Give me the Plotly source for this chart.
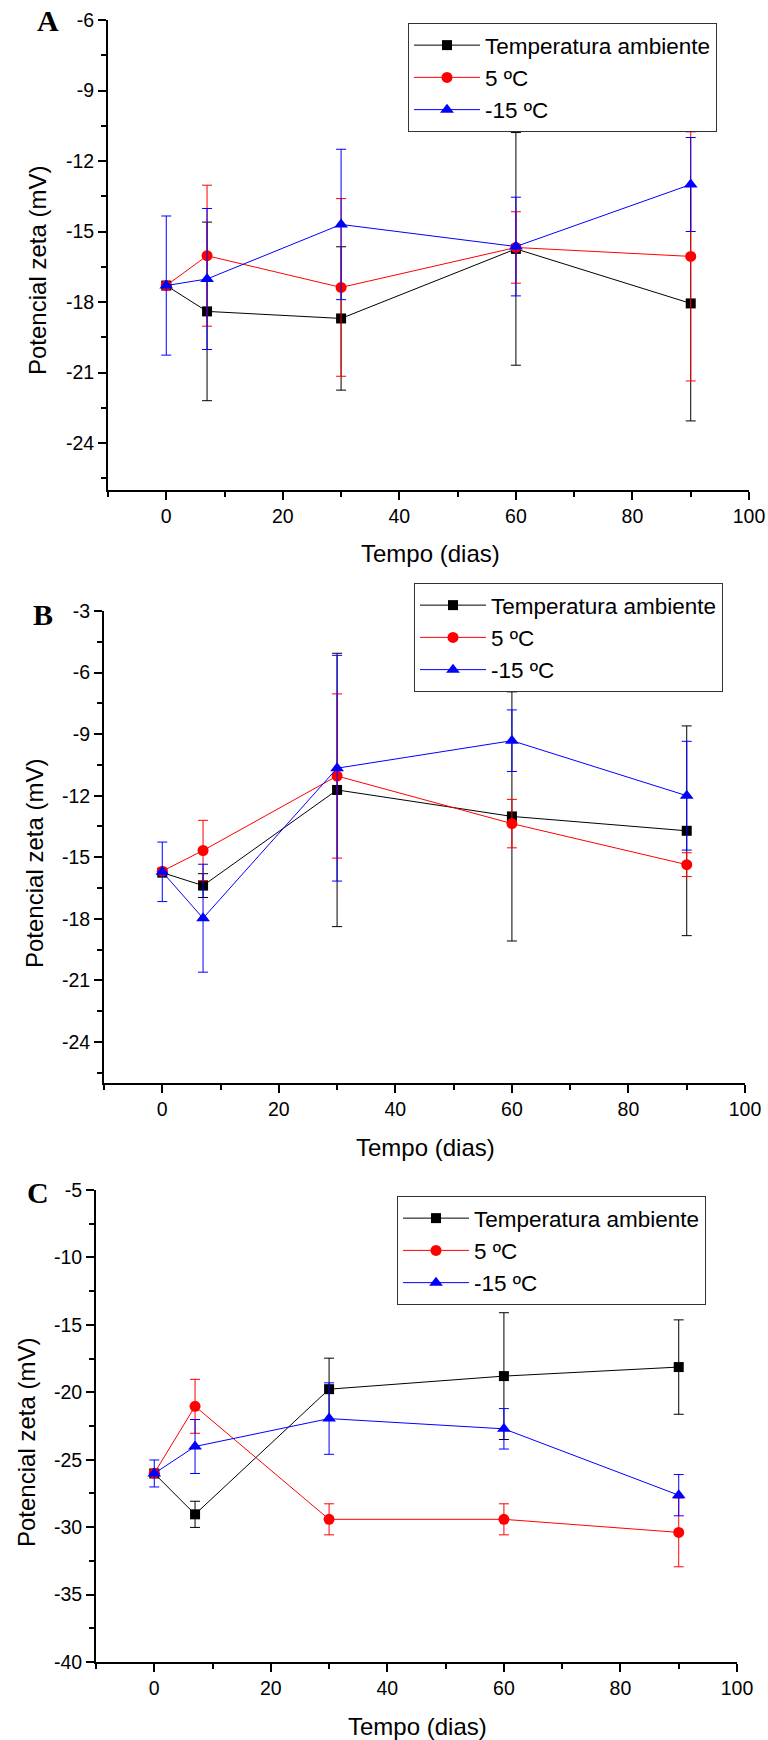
import plotly.graph_objects as go

W, H = 768, 1740

days = [0, 7, 30, 60, 90]
names = ["Temperatura ambiente", "5 ºC", "-15 ºC"]

# Panel A: zeta potential (mV) and standard deviation
a_amb = [-17.3, -18.4, -18.7, -15.74, -18.06]
a_amb_err = [0, 3.8, 3.05, 4.95, 5.0]
a_5c = [-17.3, -16.03, -17.38, -15.68, -16.06]
a_5c_err = [0, 3.0, 3.78, 1.52, 5.3]
a_m15 = [-17.3, -17.02, -14.7, -15.64, -13.0]
a_m15_err = [2.96, 3.0, 3.2, 2.1, 2.0]

# Panel B
b_amb = [-15.75, -16.38, -11.72, -13.01, -13.71]
b_amb_err = [0, 0.58, 6.66, 6.07, 5.11]
b_5c = [-15.68, -14.67, -11.04, -13.36, -15.36]
b_5c_err = [0, 1.47, 4.0, 1.18, 0.58]
b_m15 = [-15.71, -17.97, -10.66, -9.32, -12.0]
b_m15_err = [1.45, 2.63, 5.5, 1.5, 2.65]

# Panel C
c_amb = [-26.02, -29.05, -19.77, -18.8, -18.13]
c_amb_err = [0, 0.97, 2.3, 4.7, 3.5]
c_5c = [-26.0, -21.04, -29.42, -29.42, -30.39]
c_5c_err = [0, 2.0, 1.15, 1.15, 2.55]
c_m15 = [-26.02, -24.02, -21.95, -22.71, -27.63]
c_m15_err = [1.0, 2.0, 2.65, 1.5, 1.53]

# y tick values per panel (labels written with a plain hyphen)
a_yticks = [-24, -21, -18, -15, -12, -9, -6]
b_yticks = [-24, -21, -18, -15, -12, -9, -6, -3]
c_yticks = [-40, -35, -30, -25, -20, -15, -10, -5]
x_ticks = [0, 20, 40, 60, 80, 100]

colors = ["#000000", "#FF0000", "#0000FF"]
symbols = ["square", "circle", "triangle-up"]
msizes = [10, 11, 12]

SANS = "Liberation Sans, Arial, sans-serif"
SERIF = "Liberation Serif, Times New Roman, serif"


def px(x):
    return x / W


def py(y):
    return 1 - y / H


panels = [
    # letter, series, y range, y ticks, minor step, plot box (left, right, top, bottom) px,
    # legend anchor (left, top) px, letter pos, y-title pos, x-title pos
    dict(letter="A", series=[(a_amb, a_amb_err), (a_5c, a_5c_err), (a_m15, a_m15_err)],
         yrange=[-26, -6], yticks=a_yticks, minor=1.5, box=(108, 749, 20, 490),
         leg=(408, 23), lpos=(48, 21), ytpos=(38, 271), xtpos=(430, 554)),
    dict(letter="B", series=[(b_amb, b_amb_err), (b_5c, b_5c_err), (b_m15, b_m15_err)],
         yrange=[-26, -3], yticks=b_yticks, minor=1.5, box=(104, 745, 611, 1083),
         leg=(414, 583), lpos=(43, 614), ytpos=(34, 864), xtpos=(425, 1147)),
    dict(letter="C", series=[(c_amb, c_amb_err), (c_5c, c_5c_err), (c_m15, c_m15_err)],
         yrange=[-40, -5], yticks=c_yticks, minor=2.5, box=(96, 737, 1190, 1662),
         leg=(397, 1196), lpos=(38, 1192), ytpos=(26, 1443), xtpos=(417, 1726)),
]

fig = go.Figure()
layout = dict(
    template="none",
    width=W, height=H,
    margin=dict(l=0, r=0, t=0, b=0, pad=0, autoexpand=False),
    paper_bgcolor="white", plot_bgcolor="white",
    font=dict(family=SANS, color="black"),
    annotations=[],
    showlegend=True,
)

for i, p in enumerate(panels):
    n = "" if i == 0 else str(i + 1)
    xa, ya = "x" + n, "y" + n
    leg = "legend" + n
    for k, (vals, errs) in enumerate(p["series"]):
        fig.add_trace(go.Scatter(
            x=days, y=vals, name=names[k], mode="lines+markers",
            xaxis=xa, yaxis=ya, legend=leg,
            line=dict(color=colors[k], width=1),
            marker=dict(symbol=symbols[k], size=msizes[k], color=colors[k], line=dict(width=0)),
            error_y=dict(type="data", array=errs, visible=True, color=colors[k],
                         thickness=1, width=5),
        ))
    l, r, t, b = p["box"]
    axis_common = dict(
        showline=True, linecolor="black", linewidth=2, mirror=False,
        showgrid=False, zeroline=False, automargin=False,
        ticks="outside", ticklen=8, tickwidth=1.5, tickcolor="black",
        tickfont=dict(size=19.5, family=SANS, color="black"),
    )
    layout["xaxis" + n] = dict(
        axis_common, domain=[px(l), px(r)], range=[-10, 100], anchor=ya,
        tickmode="array", tickvals=x_ticks, ticktext=[str(v) for v in x_ticks],
        minor=dict(ticks="outside", ticklen=5, tickwidth=1.5, tickcolor="black",
                   tickmode="linear", tick0=-10, dtick=10, showgrid=False),
    )
    layout["yaxis" + n] = dict(
        axis_common, domain=[py(b), py(t)], range=p["yrange"], anchor=xa,
        tickmode="array", tickvals=p["yticks"], ticktext=[str(v) for v in p["yticks"]],
        minor=dict(ticks="outside", ticklen=5, tickwidth=1.5, tickcolor="black",
                   tickmode="linear", tick0=p["yrange"][1], dtick=p["minor"], showgrid=False),
    )
    layout[leg] = dict(
        x=px(p["leg"][0]), y=py(p["leg"][1]), xanchor="left", yanchor="top",
        bordercolor="#333333", borderwidth=1, bgcolor="white",
        font=dict(size=22.5, family=SANS, color="black"),
        itemwidth=66, tracegroupgap=0,
        entrywidth=250, entrywidthmode="pixels",
    )
    layout["annotations"] += [
        dict(text="<b>%s</b>" % p["letter"], x=px(p["lpos"][0]), y=py(p["lpos"][1]),
             xref="paper", yref="paper", xanchor="center", yanchor="middle",
             showarrow=False, font=dict(size=30, family=SERIF, color="black")),
        dict(text="Potencial zeta (mV)", x=px(p["ytpos"][0]), y=py(p["ytpos"][1]),
             xref="paper", yref="paper", xanchor="center", yanchor="middle",
             textangle=-90, showarrow=False, font=dict(size=24, family=SANS, color="black")),
        dict(text="Tempo (dias)", x=px(p["xtpos"][0]), y=py(p["xtpos"][1]),
             xref="paper", yref="paper", xanchor="center", yanchor="middle",
             showarrow=False, font=dict(size=24, family=SANS, color="black")),
    ]

fig.update_layout(**layout)
fig.write_html(
    "out.html",
    post_script="document.body.style.margin='0';document.body.style.padding='0';",
)
